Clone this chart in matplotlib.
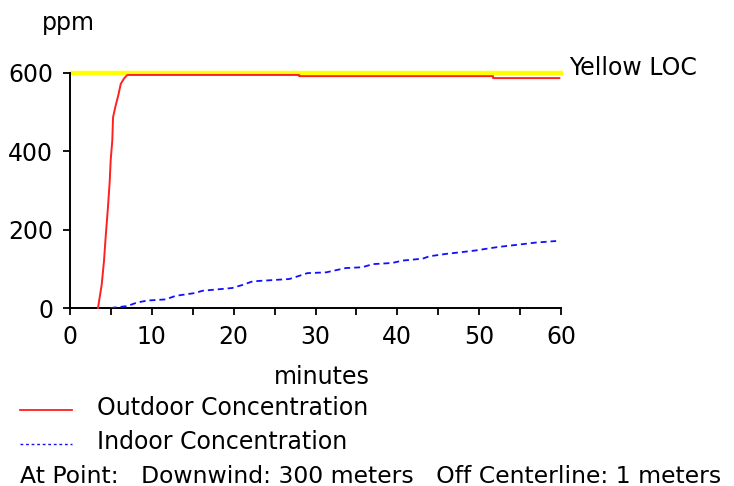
import matplotlib
matplotlib.use("Agg")
import matplotlib.pyplot as plt
from matplotlib.lines import Line2D

# Data (minutes, ppm)
outdoor_t = [3.42, 3.87, 4.15, 4.36, 4.64, 4.85, 4.97, 5.17, 5.26, 5.58, 5.9, 6.2, 6.6, 7.0,
             28.0, 28.0, 51.7, 51.7, 59.8]
outdoor_c = [0, 59, 119, 182, 258, 322, 377, 428, 487, 517, 543, 572, 586, 595,
             595, 592, 592, 587, 587]
indoor_t = [4.97, 7.0, 8.2, 9.45, 11.7, 12.9, 15.2, 16.2, 19.8, 21.1, 22.3, 26.8, 28.0, 29.0,
            31.3, 33.7, 35.7, 37.0, 39.4, 40.6, 43.1, 43.9, 45.9, 47.6, 49.6, 50.8, 52.4,
            54.9, 56.9, 59.4]
indoor_c = [0, 5, 14, 19, 22, 31, 38, 44, 51, 59, 68, 74, 82, 89,
            91, 102, 104, 112, 115, 121, 126, 132, 138, 142, 147, 151, 156,
            162, 167, 171]
loc_level = 600
loc_label = "Yellow LOC"
x_ticks = [0, 10, 20, 30, 40, 50, 60]
y_ticks = [0, 200, 400, 600]

W, H = 734, 486
fs = 17
plt.rcParams['font.family'] = ['DejaVu Sans']
fig = plt.figure(figsize=(W / 100, H / 100), dpi=100)
ax = fig.add_axes([70 / W, 1 - 308 / H, (561 - 70) / W, (308 - 73) / H])

ax.plot([0, 60.3], [loc_level, loc_level], color="#ffff00", lw=3.2, clip_on=False, zorder=2,
        solid_capstyle="butt")
ax.plot(outdoor_t, outdoor_c, color="#ff2020", lw=1.4, zorder=3, clip_on=False)
ax.plot(indoor_t, indoor_c, color="#1010ff", lw=1.3, ls=(0, (3.3, 2.2)), zorder=3)

ax.set_xlim(0, 60)
ax.set_ylim(0, 600)
ax.set_xticks(x_ticks)
ax.set_xticks(range(0, 61, 5), minor=True)
ax.set_yticks(y_ticks)
for s in ["top", "right"]:
    ax.spines[s].set_visible(False)
for s in ["left", "bottom"]:
    ax.spines[s].set_linewidth(1.4)
ax.tick_params(axis="both", which="both", direction="out", length=5, width=1.3,
               labelsize=fs, colors="black")
ax.tick_params(axis="x", pad=7)
ax.tick_params(axis="y", pad=7)

fig.text(68 / W, 1 - 23 / H, "ppm", ha="center", va="center", fontsize=fs)
fig.text(569 / W, 1 - 68 / H, loc_label, ha="left", va="center", fontsize=fs)
fig.text(322 / W, 1 - 377 / H, "minutes", ha="center", va="center", fontsize=fs)

fig.add_artist(Line2D([20 / W, 72 / W], [1 - 410 / H, 1 - 410 / H], color="#ff2020", lw=1.3))
fig.text(97 / W, 1 - 408 / H, "Outdoor Concentration", ha="left", va="center", fontsize=fs)
fig.add_artist(Line2D([20 / W, 72 / W], [1 - 444 / H, 1 - 444 / H], color="#1010ff", lw=1.0,
                      ls=(0, (2, 2))))
fig.text(97 / W, 1 - 442 / H, "Indoor Concentration", ha="left", va="center", fontsize=fs)
fig.text(20 / W, 1 - 476 / H, "At Point:   Downwind: 300 meters   Off Centerline: 1 meters",
         ha="left", va="center", fontsize=16.9)

fig.savefig("out.png", dpi=100)
